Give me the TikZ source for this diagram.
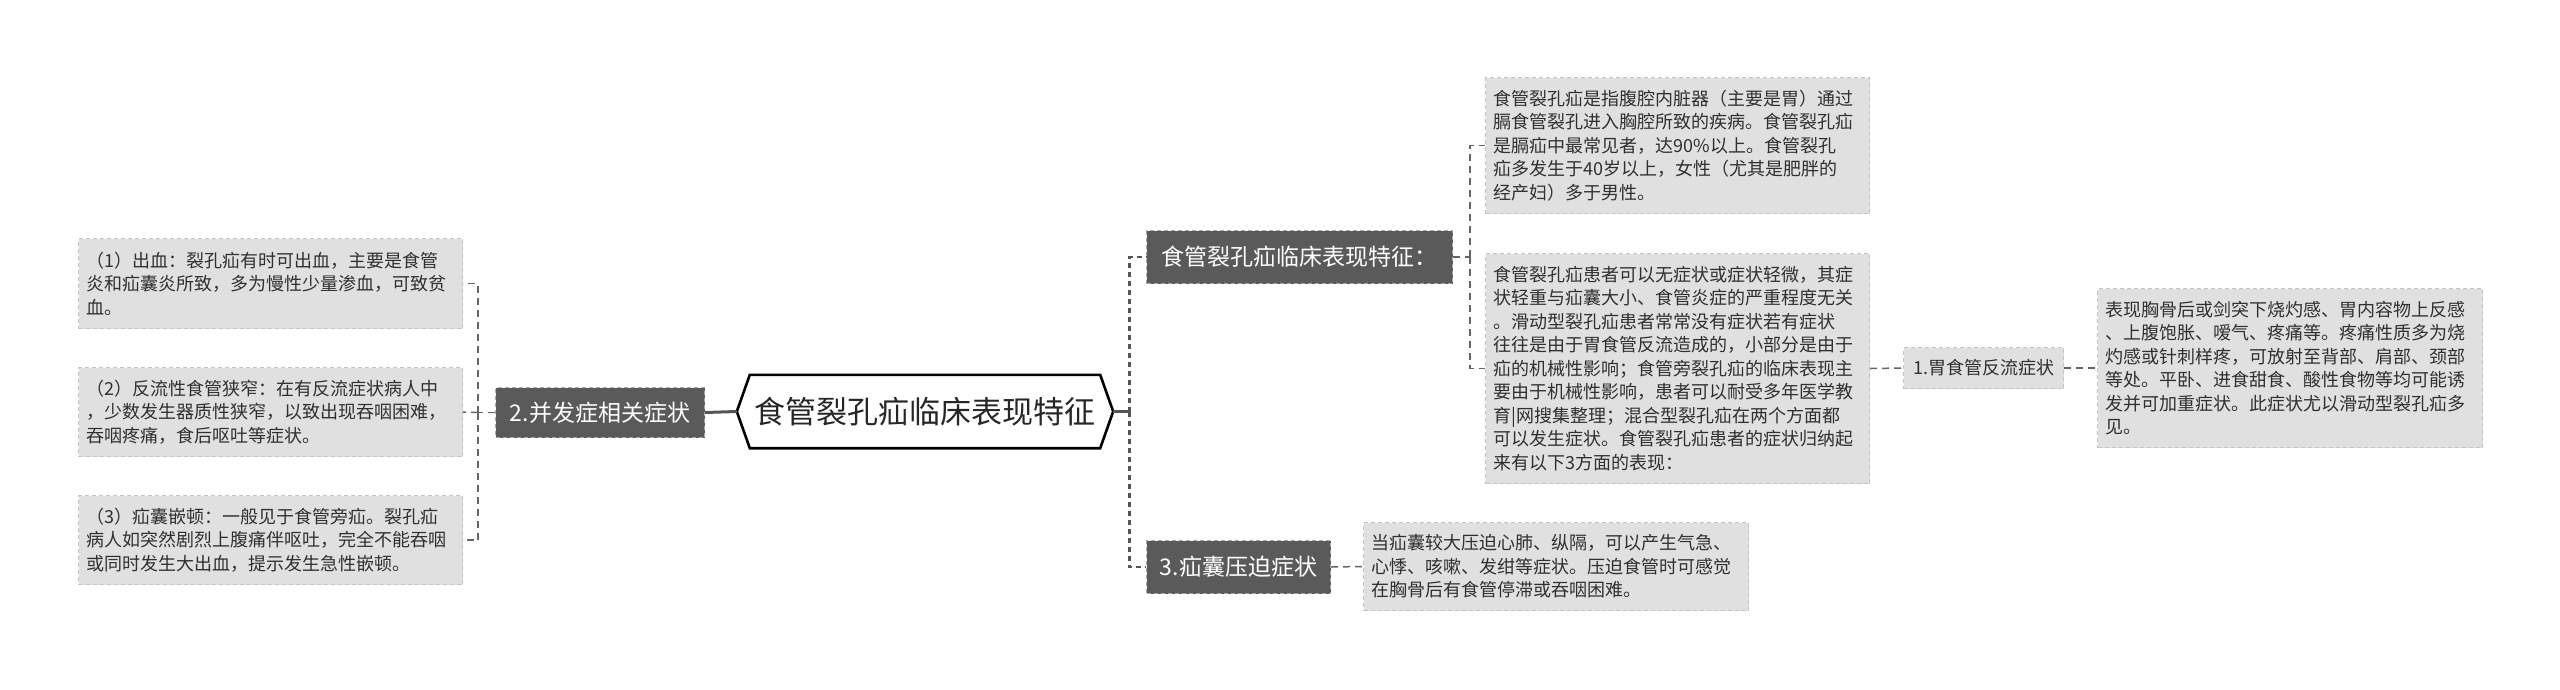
\documentclass[tikz,border=0pt]{standalone}
\usepackage{fontspec}
\newfontfamily\cjk{Noto Sans CJK SC}
\usetikzlibrary{calc}
\definecolor{darkfill}{HTML}{5A5A5A}
\definecolor{darkline}{HTML}{A8A8A8}
\definecolor{lightfill}{HTML}{E0E0E0}
\definecolor{lightline}{HTML}{C4C4C4}
\definecolor{txt}{HTML}{303030}
\definecolor{conncol}{HTML}{666666}
\definecolor{mainconn}{HTML}{555555}
\tikzset{
  tbox/.style={draw=lightline, fill=lightfill, dash pattern=on 4pt off 3pt, line width=1pt,
    font=\cjk\fontsize{18}{23.5}\selectfont, align=left, text=txt,
    inner xsep=8pt, inner ysep=0pt, anchor=north west},
  dbox/.style={draw=darkline, fill=darkfill, dash pattern=on 4pt off 3pt, line width=1pt,
    font=\cjk\fontsize{23}{28}\selectfont, text=white, inner sep=0pt, anchor=north west},
  gbox/.style={draw=lightline, fill=lightfill, dash pattern=on 4pt off 3pt, line width=1pt,
    font=\cjk\fontsize{18}{22}\selectfont, text=txt, inner sep=0pt, anchor=north west},
  conn/.style={draw=conncol, line width=1.5pt, dash pattern=on 7pt off 5pt},
  mconn/.style={draw=mainconn, line width=2.6pt, dash pattern=on 5pt off 4pt},
  sconn/.style={draw=mainconn, line width=3pt},
}
\begin{document}
\begin{tikzpicture}[x=1pt,y=-1pt]
\useasboundingbox (0,0) rectangle (2560,689);
% root
\node[font=\cjk\fontsize{31}{36}\selectfont, text=black!85, minimum width=350pt, minimum height=73pt, inner sep=0pt]
  (root) at (925,411.5) {食管裂孔疝临床表现特征};
\coordinate (rootE) at ($(root.east)+(13pt,0)$);
\coordinate (rootW) at ($(root.west)+(-13pt,0)$);
\draw[line width=2.6pt, fill=white, line join=miter] (root.north west) -- (root.north east) -- (rootE) -- (root.south east)
  -- (root.south west) -- (rootW) -- cycle;
\node[font=\cjk\fontsize{31}{36}\selectfont, text=black!85, inner sep=0pt] at (root.center) {食管裂孔疝临床表现特征};

% level 1
\node[dbox, minimum width=306pt, minimum height=53pt] (n1) at (1146,230) {食管裂孔疝临床表现特征：};
\node[dbox, minimum width=209pt, minimum height=50pt] (n2) at (495,387) {2.并发症相关症状};
\node[dbox, minimum width=184pt, minimum height=53pt] (n3) at (1146,540) {3.疝囊压迫症状};

% right texts
\node[tbox, text width=368pt, minimum height=136pt] (t1) at (1485,77) {食管裂孔疝是指腹腔内脏器（主要是胃）通过\\膈食管裂孔进入胸腔所致的疾病。食管裂孔疝\\是膈疝中最常见者，达90\%以上。食管裂孔\\疝多发生于40岁以上，女性（尤其是肥胖的\\经产妇）多于男性。};
\node[tbox, text width=368pt, minimum height=230pt] (t2) at (1485,253) {食管裂孔疝患者可以无症状或症状轻微，其症\\状轻重与疝囊大小、食管炎症的严重程度无关\\。滑动型裂孔疝患者常常没有症状若有症状\\往往是由于胃食管反流造成的，小部分是由于\\疝的机械性影响；食管旁裂孔疝的临床表现主\\要由于机械性影响，患者可以耐受多年医学教\\育|网搜集整理；混合型裂孔疝在两个方面都\\可以发生症状。食管裂孔疝患者的症状归纳起\\来有以下3方面的表现：};
\node[gbox, minimum width=160pt, minimum height=41pt] (g1) at (1903,347) {1.胃食管反流症状};
\node[tbox, text width=369pt, minimum height=159pt] (t4) at (2097,288) {表现胸骨后或剑突下烧灼感、胃内容物上反感\\、上腹饱胀、嗳气、疼痛等。疼痛性质多为烧\\灼感或针刺样疼，可放射至背部、肩部、颈部\\等处。平卧、进食甜食、酸性食物等均可能诱\\发并可加重症状。此症状尤以滑动型裂孔疝多\\见。};
\node[tbox, text width=369pt, minimum height=88pt] (t3) at (1363,522) {当疝囊较大压迫心肺、纵隔，可以产生气急、\\心悸、咳嗽、发绀等症状。压迫食管时可感觉\\在胸骨后有食管停滞或吞咽困难。};

% left texts
\node[tbox, text width=368pt, minimum height=90pt] (L1) at (78,238) {（1）出血：裂孔疝有时可出血，主要是食管\\炎和疝囊炎所致，多为慢性少量渗血，可致贫\\血。};
\node[tbox, text width=368pt, minimum height=89pt] (L2) at (78,367) {（2）反流性食管狭窄：在有反流症状病人中\\，少数发生器质性狭窄，以致出现吞咽困难，\\吞咽疼痛，食后呕吐等症状。};
\node[tbox, text width=368pt, minimum height=89pt] (L3) at (78,495) {（3）疝囊嵌顿：一般见于食管旁疝。裂孔疝\\病人如突然剧烈上腹痛伴呕吐，完全不能吞咽\\或同时发生大出血，提示发生急性嵌顿。};

% connectors: root
\draw[sconn] (n2.east) -- (rootW);
\coordinate (rb) at ($(rootE)+(16pt,0)$);
\draw[sconn] (rootE) -- (rb);
\draw[mconn] (rb) |- (n1.west);
\draw[mconn] (rb) |- (n3.west);

% left bracket
\coordinate (lb) at ($(n2.west)+(-17pt,0)$);
\draw[conn] (n2.west) -- (lb);
\draw[conn] (lb) |- (L1.east);
\draw[conn] (lb) |- (L3.east);
\draw[conn] (lb) -- (L2.east);

% n1 bracket
\coordinate (nb) at ($(n1.east)+(17pt,0)$);
\draw[conn] (n1.east) -- (nb);
\draw[conn] (nb) |- (t1.west);
\draw[conn] (nb) |- (t2.west);

\draw[conn] (t2.east) -- (g1.west);
\draw[conn] (g1.east) -- (t4.west);
\draw[conn] (n3.east) -- (t3.west);
\end{tikzpicture}
\end{document}
